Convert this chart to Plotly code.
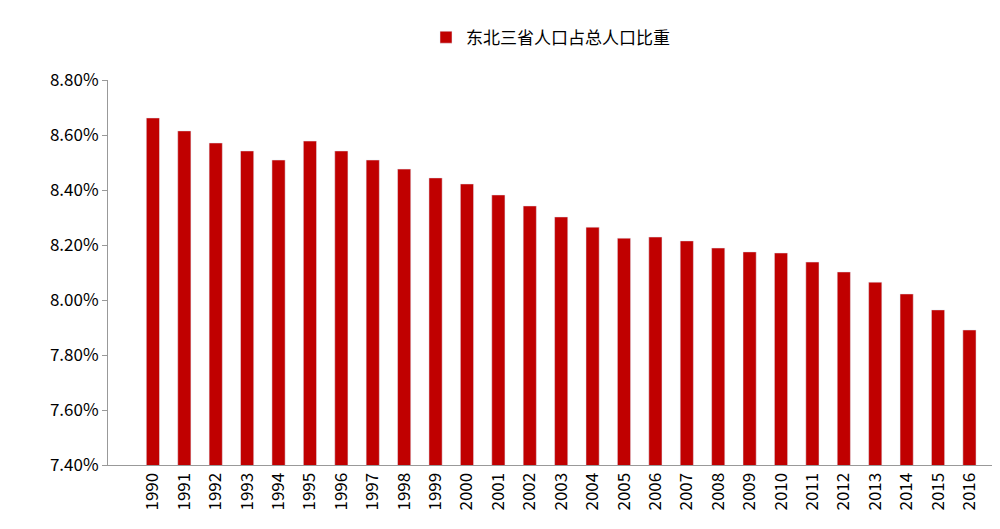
import plotly.graph_objects as go

years = [str(y) for y in range(1990, 2017)]
share = [8.662, 8.615, 8.571, 8.542, 8.509, 8.578, 8.542, 8.509, 8.476, 8.444,
         8.422, 8.382, 8.342, 8.302, 8.265, 8.225, 8.229, 8.215, 8.189, 8.175,
         8.171, 8.138, 8.102, 8.065, 8.022, 7.964, 7.891]
tick_vals = [7.4, 7.6, 7.8, 8.0, 8.2, 8.4, 8.6, 8.8]
tick_text = ["7.40%", "7.60%", "7.80%", "8.00%", "8.20%", "8.40%", "8.60%", "8.80%"]

fig = go.Figure(go.Bar(x=years, y=share, name="东北三省人口占总人口比重",
                       marker_color="#C00000", width=0.42))
fig.update_layout(
    width=1000, height=529, plot_bgcolor="white", paper_bgcolor="white",
    margin=dict(l=100, r=15, t=72, b=72, autoexpand=False),
    font=dict(family="Noto Sans CJK SC, DejaVu Sans", size=17, color="#000"),
    showlegend=True,
    legend=dict(orientation="h", x=0.5, xanchor="center", y=1.11, yanchor="middle",
                font=dict(size=17)),
)
fig.update_yaxes(range=[7.4, 8.8], tickvals=tick_vals, ticktext=tick_text,
                 showgrid=False, showline=True, linecolor="#999", ticks="outside",
                 tickcolor="#999", ticklen=5)
fig.update_xaxes(showline=True, linecolor="#999", tickangle=-90, ticks="",
                 range=[-1.43, 26.75])
fig.write_html("out.html")
